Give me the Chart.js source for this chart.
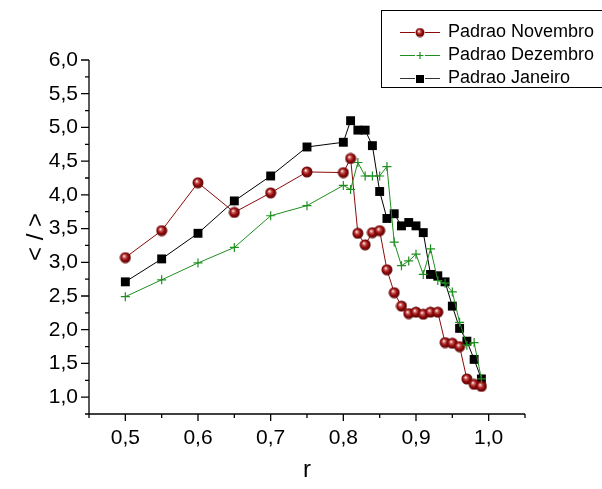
<!DOCTYPE html>
<html>
<head>
<meta charset="utf-8">
<script src="https://cdn.jsdelivr.net/npm/chart.js@4"></script>
<style>
  html, body { margin: 0; padding: 0; background: #fff; }
  #wrap { width: 602px; height: 489px; }
</style>
</head>
<body>
<div id="wrap"><canvas id="chart" width="602" height="489"></canvas></div>
<script>
// valores
const rValues = [0.5, 0.55, 0.6, 0.65, 0.7, 0.75, 0.8, 0.81, 0.82, 0.83, 0.84, 0.85, 0.86,
  0.87, 0.88, 0.89, 0.9, 0.91, 0.92, 0.93, 0.94, 0.95, 0.96, 0.97, 0.98, 0.99];
const novembro = [3.07, 3.47, 4.18, 3.74, 4.03, 4.34, 4.33, 4.54, 3.43, 3.26, 3.44, 3.47, 2.89,
  2.55, 2.35, 2.24, 2.26, 2.23, 2.26, 2.26, 1.81, 1.80, 1.75, 1.27, 1.19, 1.16];
const dezembro = [2.49, 2.74, 2.99, 3.22, 3.69, 3.84, 4.14, 4.08, 4.48, 4.28, 4.28, 4.28, 4.42,
  3.30, 2.95, 3.02, 3.12, 2.82, 3.20, 2.73, 2.69, 2.56, 2.11, 1.77, 1.81, 1.27];
const janeiro = [2.71, 3.05, 3.43, 3.91, 4.28, 4.71, 4.78, 5.10, 4.96, 4.96, 4.73, 4.05, 3.65,
  3.72, 3.54, 3.59, 3.54, 3.44, 2.82, 2.80, 2.71, 2.35, 2.02, 1.83, 1.56, 1.27];
const xTicks = [0.5, 0.6, 0.7, 0.8, 0.9, 1.0];
const yTicks = [1.0, 1.5, 2.0, 2.5, 3.0, 3.5, 4.0, 4.5, 5.0, 5.5, 6.0];
const seriesNames = ["Padrao Novembro", "Padrao Dezembro", "Padrao Janeiro"];

const RED = "#8a0a0a";
const GREEN = "#1e8f1e";
const BLACK = "#000000";
const FONT = "'Liberation Sans', Arial, sans-serif";

// bolinha vermelha com brilho
function makeSphere(size) {
  const c = document.createElement("canvas");
  c.width = size; c.height = size;
  const g = c.getContext("2d");
  const h = size / 2;
  const grad = g.createRadialGradient(h * 0.77, h * 0.73, 0.3, h, h, h);
  grad.addColorStop(0, "#ffffff");
  grad.addColorStop(0.22, "#d06060");
  grad.addColorStop(0.55, "#960c0c");
  grad.addColorStop(1, "#4a0000");
  g.fillStyle = grad;
  g.beginPath();
  g.arc(h, h, h - 0.5, 0, Math.PI * 2);
  g.fill();
  return c;
}
const sphere = makeSphere(12);
const sphereSmall = makeSphere(10);

const toPoints = (ys) => rValues.map((r, i) => ({ x: r, y: ys[i] }));
const fmt = (v) => v.toFixed(1).replace(".", ",");

const axesPlugin = {
  id: "axesPlugin",
  beforeDatasetsDraw(chart) {
    const { ctx, chartArea: a, scales } = chart;
    const x = scales.x, y = scales.y;
    ctx.save();
    ctx.strokeStyle = "#000";
    ctx.lineWidth = 1.3;
    ctx.beginPath();
    ctx.moveTo(a.left, a.top);
    ctx.lineTo(a.left, a.bottom);
    ctx.lineTo(a.right, a.bottom);
    for (let i = 0; i <= 12; i++) {
      const px = x.getPixelForValue(0.45 + i * 0.05);
      const len = i % 2 === 1 ? 7 : 4;
      ctx.moveTo(px, a.bottom);
      ctx.lineTo(px, a.bottom + len);
    }
    for (let i = 0; i <= 21; i++) {
      const py = y.getPixelForValue(0.75 + i * 0.25);
      const len = i % 2 === 1 ? 8 : 4;
      ctx.moveTo(a.left, py);
      ctx.lineTo(a.left - len, py);
    }
    ctx.stroke();
    ctx.restore();
  }
};

const legendPlugin = {
  id: "legendPlugin",
  afterDraw(chart) {
    const ctx = chart.ctx;
    ctx.save();
    ctx.strokeStyle = "#000";
    ctx.lineWidth = 1;
    ctx.strokeRect(381.5, 10.5, 240, 77);
    const rows = [32, 55, 78];
    const colors = [RED, GREEN, "#333"];
    ctx.font = "18px " + FONT;
    ctx.textBaseline = "middle";
    rows.forEach((ry, i) => {
      ctx.strokeStyle = colors[i];
      ctx.lineWidth = 1;
      ctx.beginPath();
      ctx.moveTo(400, ry + 0.5); ctx.lineTo(415, ry + 0.5);
      ctx.moveTo(425, ry + 0.5); ctx.lineTo(440, ry + 0.5);
      ctx.stroke();
      if (i === 0) {
        ctx.drawImage(sphereSmall, 415, ry - 4.5);
      } else if (i === 1) {
        ctx.strokeStyle = GREEN;
        ctx.lineWidth = 1.2;
        ctx.beginPath();
        ctx.moveTo(416.5, ry + 0.5); ctx.lineTo(423.5, ry + 0.5);
        ctx.moveTo(420, ry - 3); ctx.lineTo(420, ry + 4);
        ctx.stroke();
      } else {
        ctx.fillStyle = BLACK;
        ctx.fillRect(416, ry - 3, 8, 8);
      }
      ctx.fillStyle = "#000";
      ctx.fillText(seriesNames[i], 448, ry);
    });
    ctx.restore();
  }
};

new Chart(document.getElementById("chart"), {
  type: "scatter",
  data: {
    datasets: [
      {
        label: seriesNames[0],
        data: toPoints(novembro),
        showLine: true,
        borderColor: RED,
        borderWidth: 1,
        pointStyle: sphere,
        pointRadius: 6,
        order: 2
      },
      {
        label: seriesNames[1],
        data: toPoints(dezembro),
        showLine: true,
        borderColor: GREEN,
        backgroundColor: GREEN,
        borderWidth: 1,
        pointStyle: "cross",
        pointRadius: 4.5,
        pointBorderWidth: 1.2,
        order: 1
      },
      {
        label: seriesNames[2],
        data: toPoints(janeiro),
        showLine: true,
        borderColor: BLACK,
        backgroundColor: BLACK,
        borderWidth: 1,
        pointStyle: "rect",
        pointRadius: 6.3,
        pointBorderWidth: 0,
        order: 3
      }
    ]
  },
  options: {
    responsive: false,
    animation: false,
    events: [],
    layout: { padding: { top: 60, right: 77, left: 0, bottom: 0 } },
    plugins: { legend: { display: false }, tooltip: { enabled: false } },
    scales: {
      x: {
        type: "linear",
        min: 0.45,
        max: 1.05,
        afterBuildTicks: (s) => { s.ticks = xTicks.map((v) => ({ value: v })); },
        afterFit: (s) => { s.height = 75; },
        grid: { display: false, drawTicks: false },
        border: { display: false },
        ticks: {
          color: "#000",
          padding: 12,
          maxRotation: 0,
          font: { family: FONT, size: 21 },
          callback: (v) => fmt(v)
        },
        title: {
          display: true,
          text: "r",
          color: "#000",
          font: { family: FONT, size: 24 },
          padding: { top: 0, bottom: 4 }
        }
      },
      y: {
        type: "linear",
        min: 0.75,
        max: 6.0,
        afterBuildTicks: (s) => { s.ticks = yTicks.map((v) => ({ value: v })); },
        afterFit: (s) => { s.width = 89; },
        grid: { display: false, drawTicks: false },
        border: { display: false },
        ticks: {
          color: "#000",
          padding: 11,
          font: { family: FONT, size: 21 },
          callback: (v) => fmt(v)
        },
        title: {
          display: true,
          text: "< / >",
          color: "#000",
          font: { family: FONT, size: 24 },
          padding: { top: 22, bottom: 0 }
        }
      }
    }
  },
  plugins: [axesPlugin, legendPlugin]
});
</script>
</body>
</html>
